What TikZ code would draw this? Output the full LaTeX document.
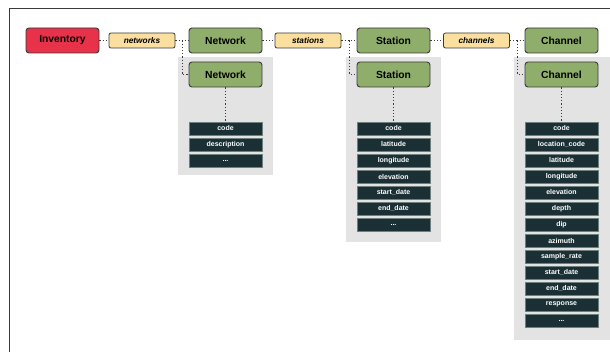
\documentclass[tikz,border=0pt]{standalone}
\usepackage{fontspec}
\setmainfont{Liberation Sans}
\definecolor{invred}{HTML}{E8324A}
\definecolor{objgreen}{HTML}{8FAE6B}
\definecolor{tagtan}{HTML}{FADF9F}
\definecolor{attrfill}{HTML}{1B3034}
\definecolor{attrline}{HTML}{6F7F7F}
\definecolor{panelgray}{HTML}{E3E3E3}
\definecolor{darkline}{HTML}{3A3A3A}
\newcommand{\myellip}{...}
\begin{document}
\begin{tikzpicture}[x=1pt,y=-1pt,
  bigbox/.style={draw=darkline,line width=0.9pt,rounded corners=3pt,minimum width=73pt,minimum height=25pt,inner sep=0pt,font=\fontsize{10.3}{12}\selectfont\bfseries},
  invbox/.style={bigbox,fill=invred},
  objbox/.style={bigbox,fill=objgreen},
  tagbox/.style={draw=darkline,line width=0.8pt,rounded corners=2pt,fill=tagtan,minimum width=66pt,minimum height=15pt,inner sep=0pt,font=\fontsize{8.3}{10}\selectfont\bfseries\itshape},
  attrbox/.style={draw=attrline,line width=0.8pt,fill=attrfill,text=white,minimum width=73pt,minimum height=13pt,inner sep=0pt,font=\fontsize{7}{8}\selectfont\bfseries},
  dotline/.style={draw=darkline,line width=0.9pt,dash pattern=on 1.2pt off 2pt}
]
\useasboundingbox (0,0) rectangle (610,352);
% frame
\draw[darkline,line width=1pt] (9,352) -- (9,9) -- (610,9);
% panels
\fill[panelgray] (178,57) rectangle (273,175);
\fill[panelgray] (346,57) rectangle (441,242);
\fill[panelgray] (514,57) rectangle (610,340);
% top row
\node[invbox] (inv) at (62.5,40.5) {Inventory};
\node[tagbox] (tnet) at (142,40.5) {networks};
\node[objbox] (net) at (225.5,40.5) {Network};
\node[tagbox] (tsta) at (308,40.5) {stations};
\node[objbox] (sta) at (393.5,40.5) {Station};
\node[tagbox] (tcha) at (476.5,40.5) {channels};
\node[objbox] (cha) at (561.5,40.5) {Channel};
% second row
\node[objbox] (net2) at (225.5,74.5) {Network};
\node[objbox] (sta2) at (393.5,74.5) {Station};
\node[objbox] (cha2) at (561.5,74.5) {Channel};
% attributes
\foreach \t [count=\i from 0] in {code,description,\myellip}
  \node[attrbox] (na\i) at (225.5,128.5+16*\i) {\t};
\foreach \t [count=\i from 0] in {code,latitude,longitude,elevation,start\_date,end\_date,\myellip}
  \node[attrbox] (sa\i) at (393.5,128.5+16*\i) {\t};
\foreach \t [count=\i from 0] in {code,location\_code,latitude,longitude,elevation,depth,dip,azimuth,sample\_rate,start\_date,end\_date,response,\myellip}
  \node[attrbox] (ca\i) at (561.5,128.5+16*\i) {\t};
% connectors
\coordinate (bn) at (182,40.5);
\coordinate (bs) at (349.5,40.5);
\coordinate (bc) at (517.5,40.5);
\draw[dotline] (inv) -- (tnet);
\draw[dotline] (tnet) -- (net);
\draw[dotline] (bn) |- (net2);
\draw[dotline] (net) -- (tsta);
\draw[dotline] (tsta) -- (sta);
\draw[dotline] (bs) |- (sta2);
\draw[dotline] (sta) -- (tcha);
\draw[dotline] (tcha) -- (cha);
\draw[dotline] (bc) |- (cha2);
\draw[dotline] (net2) -- (na0);
\draw[dotline] (sta2) -- (sa0);
\draw[dotline] (cha2) -- (ca0);
\end{tikzpicture}
\end{document}
